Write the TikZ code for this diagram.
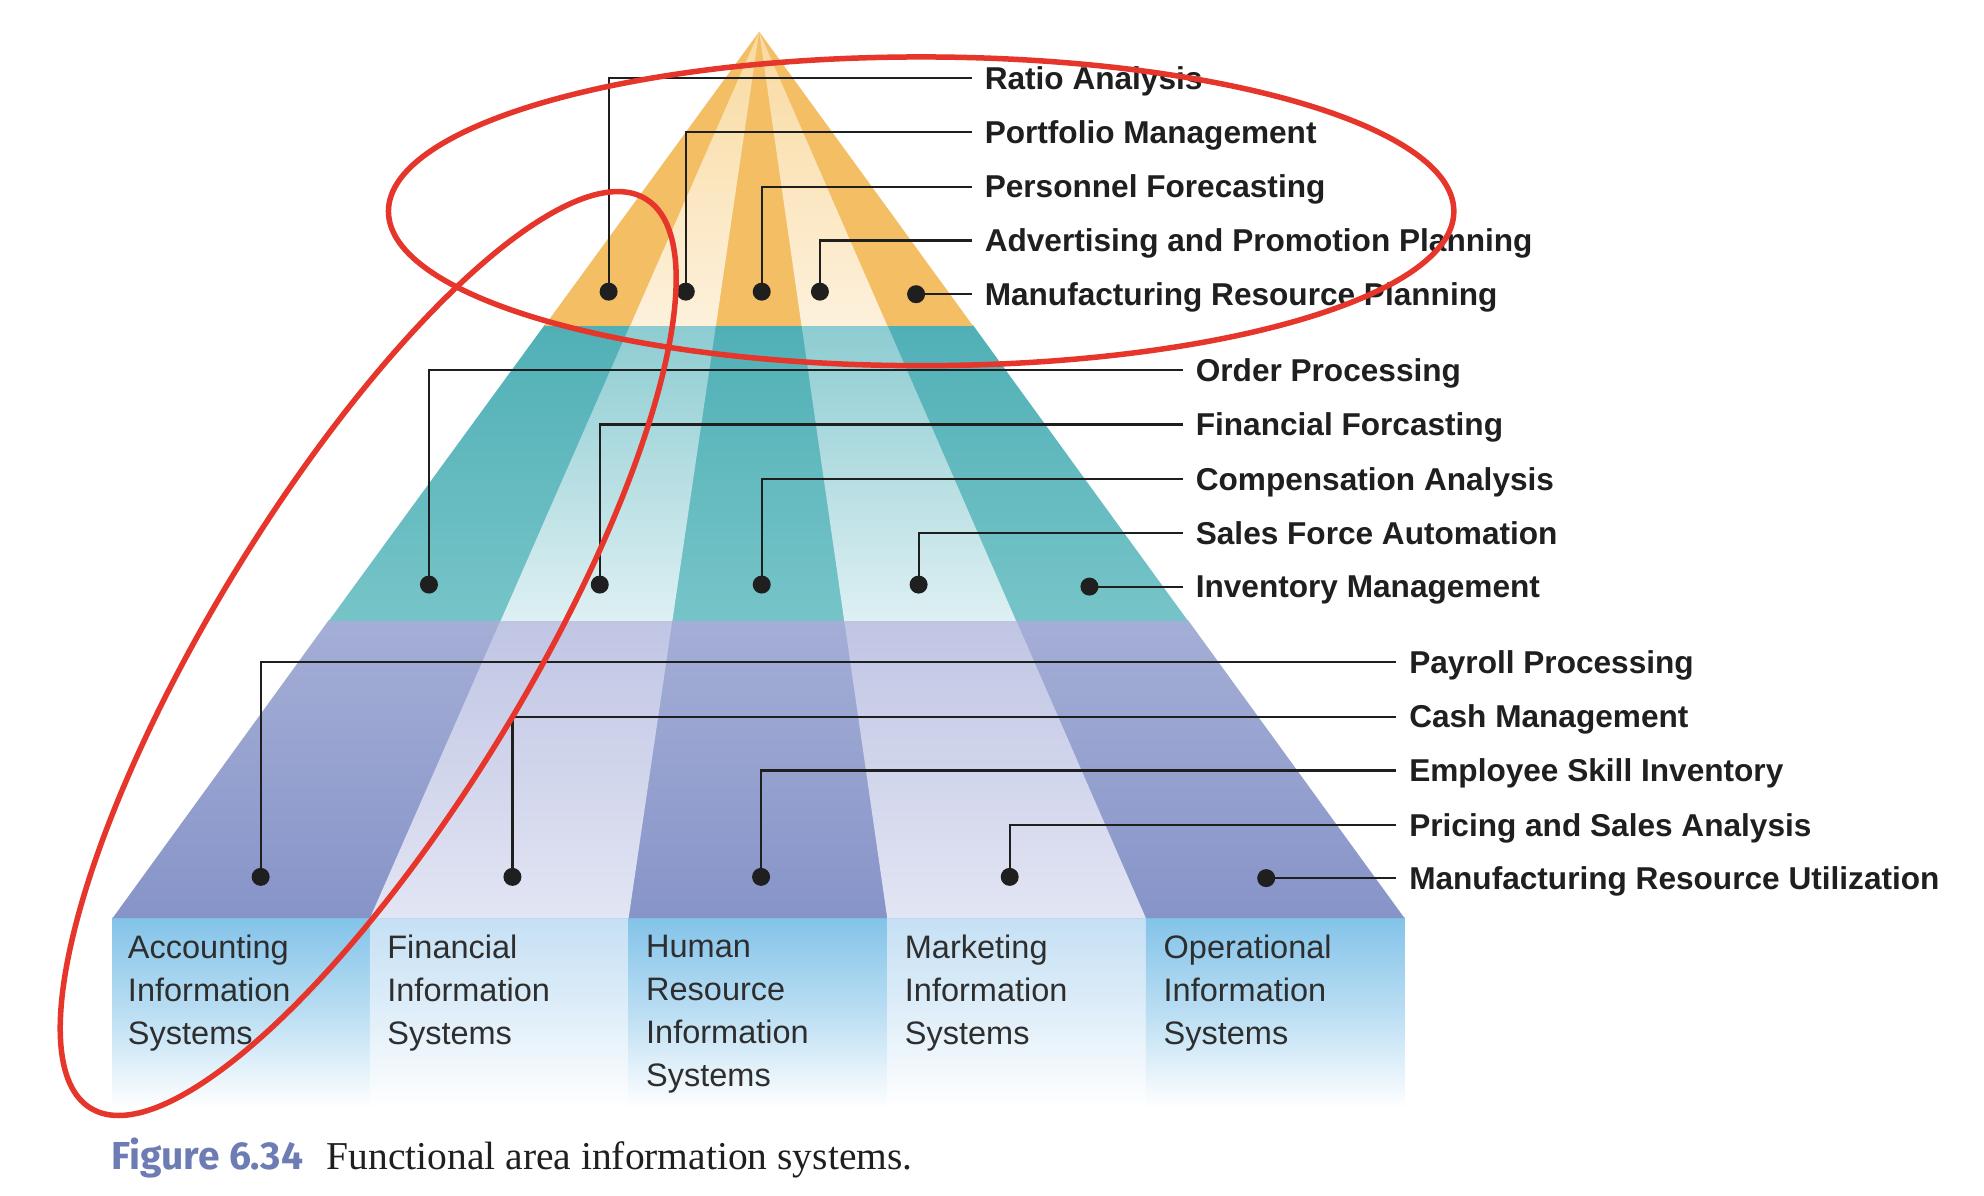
\documentclass[tikz,border=0pt]{standalone}
\usepackage{fontspec}
\setmainfont{Liberation Sans}
\newfontfamily\capsans{Fira Sans}
\newfontfamily\capserif{Liberation Serif}
\definecolor{orD}{HTML}{F3BE64}
\definecolor{orLt}{HTML}{F9DAA0}
\definecolor{orLb}{HTML}{FDF1DC}
\definecolor{teDt}{HTML}{50B0B6}
\definecolor{teDb}{HTML}{76C4C8}
\definecolor{teLt}{HTML}{8CCCD1}
\definecolor{teLb}{HTML}{DEF0F3}
\definecolor{puDt}{HTML}{A4AED6}
\definecolor{puDb}{HTML}{8794C8}
\definecolor{puLt}{HTML}{C0C5E4}
\definecolor{puLb}{HTML}{E2E5F3}
\definecolor{blD}{HTML}{83C3E9}
\definecolor{blL}{HTML}{C5E0F4}
\definecolor{redmark}{HTML}{E6352A}
\definecolor{ink}{HTML}{1F1F1F}
\definecolor{boxink}{HTML}{2E2E2E}
\definecolor{figblue}{HTML}{6D7DB4}
\begin{document}
\begin{tikzpicture}[x=1.2653pt,y=-1.2653pt,
  conn/.style={draw=ink, line width=2.2pt},
  dot/.style={circle, fill=ink, inner sep=0pt, minimum size=18pt},
  lab/.style={anchor=west, font=\fontsize{31.6}{36}\selectfont\bfseries, text=ink,
              inner xsep=12.8pt, inner ysep=0pt, text height=22.6pt, text depth=0pt},
  boxlab/.style={anchor=north west, align=left, inner sep=0pt,
              font=\fontsize{32.5}{43}\selectfont, text=boxink},
  redloop/.style={draw=redmark, line width=5.5pt}
]
\fill[white] (0,0) rectangle (1568,945);
\useasboundingbox (0,0) rectangle (1568,945);

% ---- bottom boxes
\shade[top color=blD, bottom color=white, middle color=blD!55!white] (89,725) rectangle (292.4,876);
\shade[top color=blL, bottom color=white, middle color=blL!55!white] (292.4,725) rectangle (496.8,876);
\shade[top color=blD, bottom color=white, middle color=blD!55!white] (496.8,725) rectangle (701.2,876);
\shade[top color=blL, bottom color=white, middle color=blL!55!white] (701.2,725) rectangle (905.6,876);
\shade[top color=blD, bottom color=white, middle color=blD!55!white] (905.6,725) rectangle (1110,876);

% ---- purple band
\shade[top color=puDt, bottom color=puDb] (259.9,490) -- (938.8,490) -- (1110,725.6) -- (89,725.6) -- cycle;
\shade[top color=puLt, bottom color=puLb] (395.7,490) -- (531.4,490) -- (496.8,725.6) -- (292.4,725.6) -- cycle;
\shade[top color=puLt, bottom color=puLb] (667.2,490) -- (803.0,490) -- (905.6,725.6) -- (701.2,725.6) -- cycle;

% ---- teal band
\shade[top color=teDt, bottom color=teDb] (430.3,257) -- (769,257) -- (938.8,490.6) -- (259.9,490.6) -- cycle;
\shade[top color=teLt, bottom color=teLb] (498.0,257) -- (565.8,257) -- (531.4,490.6) -- (395.7,490.6) -- cycle;
\shade[top color=teLt, bottom color=teLb] (633.5,257) -- (701.3,257) -- (803.0,490.6) -- (667.2,490.6) -- cycle;

% ---- orange band
\fill[orD] (600,25) -- (769,257.6) -- (430.3,257.6) -- cycle;
\shade[top color=orLt, bottom color=orLb] (600,25) -- (565.8,257.6) -- (498.0,257.6) -- cycle;
\shade[top color=orLt, bottom color=orLb] (600,25) -- (701.3,257.6) -- (633.5,257.6) -- cycle;

% ---- dots
\node[dot] (o1) at (481,230.5) {};
\node[dot] (o2) at (542,230.5) {};
\node[dot] (o3) at (602,230.5) {};
\node[dot] (o4) at (648,230.5) {};
\node[dot] (o5) at (724,232.5) {};
\node[dot] (t1) at (339,462) {};
\node[dot] (t2) at (474,462) {};
\node[dot] (t3) at (602,462) {};
\node[dot] (t4) at (726,462) {};
\node[dot] (t5) at (861,463.6) {};
\node[dot] (p1) at (206,693) {};
\node[dot] (p2) at (405,693) {};
\node[dot] (p3) at (601.5,693) {};
\node[dot] (p4) at (798,693) {};
\node[dot] (p5) at (1000.7,694) {};

% ---- labels
\node[lab] (lo1) at (768,61.5) {Ratio Analysis};
\node[lab] (lo2) at (768,104.5) {Portfolio Management};
\node[lab] (lo3) at (768,147.5) {Personnel Forecasting};
\node[lab] (lo4) at (768,190) {Advertising and Promotion Planning};
\node[lab] (lo5) at (768,232.5) {Manufacturing Resource Planning};
\node[lab] (lt1) at (934.8,292.5) {Order Processing};
\node[lab] (lt2) at (934.8,335.5) {Financial Forcasting};
\node[lab] (lt3) at (934.8,378.5) {Compensation Analysis};
\node[lab] (lt4) at (934.8,421) {Sales Force Automation};
\node[lab] (lt5) at (934.8,463.6) {Inventory Management};
\node[lab] (lp1) at (1103.5,523.5) {Payroll Processing};
\node[lab] (lp2) at (1103.5,566.4) {Cash Management};
\node[lab] (lp3) at (1103.5,609) {Employee Skill Inventory};
\node[lab] (lp4) at (1103.5,652) {Pricing and Sales Analysis};
\node[lab] (lp5) at (1103.5,694) {Manufacturing Resource Utilization};

% ---- connectors
\foreach \d/\l in {o1/lo1,o2/lo2,o3/lo3,o4/lo4,t1/lt1,t2/lt2,t3/lt3,t4/lt4,p1/lp1,p2/lp2,p3/lp3,p4/lp4}
  \draw[conn] (\d.center) |- (\l.west);
\draw[conn] (o5.center) -- (lo5.west);
\draw[conn] (t5.center) -- (lt5.west);
\draw[conn] (p5.center) -- (lp5.west);

% ---- column texts
\node[boxlab] (c1) at (101,739) {Accounting\\Information\\Systems};
\node[boxlab] (c2) at (306,739) {Financial\\Information\\Systems};
\node[boxlab] (c3) at (510.5,739) {Human\\Resource\\Information\\Systems};
\node[boxlab] (c4) at (715,739) {Marketing\\Information\\Systems};
\node[boxlab] (c5) at (919.5,739) {Operational\\Information\\Systems};

% ---- caption
\node[anchor=base west, inner sep=0pt, text=figblue,
      font=\capsans\bfseries\fontsize{39}{42}\selectfont] (fig) at (88,924) {Figure 6.34};
\node[anchor=base west, inner sep=0pt, text=ink,
      font=\capserif\fontsize{39.5}{42}\selectfont] (cap) at (258,924) {Functional area information systems.};

% ---- red annotation loops
\draw[redloop] (728,167) ellipse [x radius=421, y radius=122];
\draw[redloop, rotate around={58.6:(291,516.5)}] (291,516.5) ellipse [x radius=421, y radius=123.5];
\end{tikzpicture}
\end{document}
